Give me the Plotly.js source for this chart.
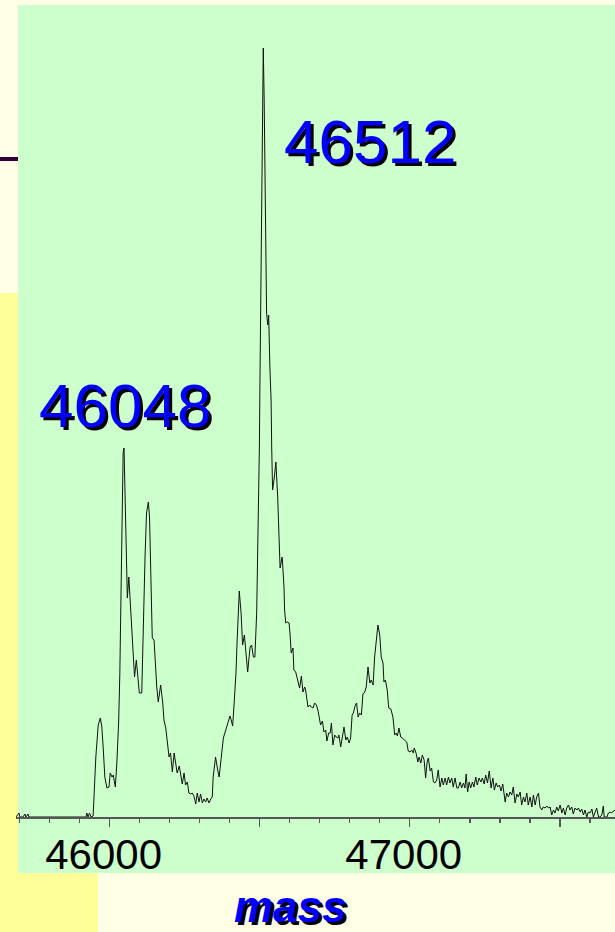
<!DOCTYPE html>
<html>
<head>
<meta charset="utf-8">
<script src="https://cdn.plot.ly/plotly-3.0.1.min.js"></script>
<style>
html,body{margin:0;padding:0;background:#FFFFE5;}
#chart{width:615px;height:932px;}
</style>
</head>
<body>
<div id="chart"></div>
<script>
// Deconvoluted mass spectrum (mass in Da, intensity in arbitrary units)
const mass = [
45688,45698,45701,45711,45718,45721,45728,45731,45921,45924,45928,45933,45938,45945,45954,45962,45969,45974,45979,45984,
45991,45998,46002,46008,46012,46019,46024,46030,46034,46040,46045,46048,46052,46057,46059,46064,46070,46077,46083,46089,
46095,46099,46107,46112,46118,46123,46129,46133,46138,46142,46148,46151,46157,46162,46170,46177,46181,46187,46192,46198,
46203,46209,46215,46221,46225,46232,46238,46242,46248,46253,46259,46264,46270,46275,46281,46287,46292,46298,46303,46309,
46314,46320,46325,46331,46337,46342,46345,46353,46360,46365,46371,46379,46384,46390,46395,46401,46405,46410,46415,46421,
46425,46432,46438,46443,46449,46453,46460,46468,46473,46479,46484,46490,46495,46499,46501,46504,46509,46512,46515,46520,
46523,46527,46530,46534,46538,46540,46543,46549,46554,46560,46564,46568,46575,46581,46583,46587,46592,46598,46601,46605,
46611,46614,46620,46625,46633,46639,46644,46650,46653,46661,46667,46672,46678,46683,46689,46694,46700,46703,46709,46714,
46720,46724,46730,46735,46739,46744,46750,46755,46761,46764,46770,46775,46781,46787,46792,46798,46803,46808,46812,46819,
46823,46828,46833,46839,46844,46850,46855,46861,46867,46872,46878,46883,46889,46894,46900,46905,46911,46914,46919,46925,
46930,46937,46944,46950,46955,46959,46964,46970,46975,46984,46990,46995,47001,47007,47012,47015,47021,47027,47031,47037,
47042,47048,47053,47058,47062,47068,47073,47079,47084,47090,47095,47101,47107,47112,47118,47123,47129,47134,47140,47145,
47151,47157,47162,47168,47173,47179,47184,47188,47193,47198,47203,47209,47214,47220,47225,47231,47237,47242,47248,47253,
47259,47265,47271,47277,47282,47288,47293,47299,47304,47310,47318,47323,47329,47334,47340,47345,47351,47357,47362,47368,
47373,47379,47384,47390,47395,47401,47407,47412,47418,47423,47429,47434,47440,47445,47451,47457,47462,47468,47473,47479,
47484,47490,47495,47501,47507,47512,47518,47523,47529,47534,47540,47545,47551,47557,47562,47568,47573,47579,47584,47590,
47595,47601,47607,47612,47618,47623,47629,47634,47640,47645,47648,47657,47662,47668,47671,47684
];
const intensity = [
0,4,0,0,3,0,3,0,0,4,0,4,0,1,60,92,99,90,67,40,
29,30,44,40,42,30,54,94,144,277,364,369,310,244,219,240,210,177,140,157,
134,124,124,194,260,304,315,300,244,179,177,157,130,115,132,114,97,89,77,60,
64,45,64,49,44,51,40,33,44,32,35,24,23,24,21,13,24,15,23,14,
18,15,19,14,18,20,40,60,47,40,57,79,84,90,97,101,97,91,114,144,
177,226,204,172,182,170,145,170,172,160,160,204,280,370,437,517,717,769,717,584,
504,492,502,450,417,370,327,340,355,320,270,249,260,230,207,194,195,194,184,164,
169,147,145,139,129,141,125,130,127,110,112,110,109,114,112,107,99,92,96,85,
87,76,84,84,94,72,82,80,79,82,70,79,90,77,80,74,79,102,104,112,
114,100,104,102,123,125,130,150,134,137,132,160,180,192,182,160,154,135,137,127,
109,108,100,82,84,81,89,80,79,77,75,66,65,67,64,69,64,55,60,54,
62,57,39,55,59,46,49,35,34,37,47,30,39,32,39,32,40,34,39,30,
39,29,29,35,29,34,29,43,25,35,29,35,30,40,32,39,35,39,33,42,
34,46,29,39,27,34,30,32,26,33,15,24,20,25,22,30,14,23,20,25,
12,20,15,24,12,20,10,22,12,20,24,10,7,10,9,11,9,10,2,7,
4,10,6,12,4,9,2,9,12,7,10,3,9,7,9,5,8,2,7,0,
5,4,8,0,5,9,0,0,2,11,0,0,4,5,4,7
];
const majorTicks = [46000, 46500, 47000, 47500];
const majorTickText = ["46000", "", "47000", ""];
const peakLabels = ["46048", "46512"];
const axisTitle = "mass";

const W = 615, H = 932, L = 16, R = 0, T = 5, B = 115;
const pw = W - L - R, ph = H - T - B;
const px = v => (v - L) / pw;           // page x pixel -> paper
const py = v => (H - B - v) / ph;       // page y pixel -> paper

const shadow = '3px 3px 0px #000000';

const trace = {
  x: mass, y: intensity, type: 'scatter', mode: 'lines',
  line: {color: '#111111', width: 1}, hoverinfo: 'skip', showlegend: false
};

const layout = {
  width: W, height: H,
  margin: {l: L, r: R, t: T, b: B, pad: 0},
  paper_bgcolor: '#FFFFE5',
  plot_bgcolor: 'rgba(0,0,0,0)',
  showlegend: false,
  xaxis: {
    range: [45688, 47684],
    showgrid: false, zeroline: false,
    showline: true, linecolor: '#555555', linewidth: 2,
    ticks: 'outside', ticklen: 8, tickwidth: 1.5, tickcolor: '#555555',
    tickmode: 'array', tickvals: majorTicks, ticktext: majorTickText,
    ticklabelshift: -6, ticklabelstandoff: -8,
    tickfont: {family: 'Liberation Sans, Arial, sans-serif', size: 42, color: '#000000'},
    minor: {tickmode: 'linear', tick0: 46000, dtick: 100, ticks: 'outside', ticklen: 4, tickwidth: 1.5, tickcolor: '#555555'},
    fixedrange: true
  },
  yaxis: {range: [0, 812], visible: false, fixedrange: true},
  shapes: [
    {type: 'rect', xref: 'paper', yref: 'paper', x0: px(18), x1: px(615), y0: py(873), y1: py(5),
     fillcolor: '#CCFFCC', line: {width: 0}, layer: 'below'},
    {type: 'rect', xref: 'paper', yref: 'paper', x0: px(0), x1: px(18), y0: py(873), y1: py(293),
     fillcolor: '#FFFF99', line: {width: 0}, layer: 'below'},
    {type: 'rect', xref: 'paper', yref: 'paper', x0: px(0), x1: px(98), y0: py(932), y1: py(873),
     fillcolor: '#FFFF99', line: {width: 0}, layer: 'below'},
    {type: 'rect', xref: 'paper', yref: 'paper', x0: px(0), x1: px(18), y0: py(161), y1: py(157),
     fillcolor: '#330033', line: {width: 0}, layer: 'below'}
  ],
  annotations: [
    {text: peakLabels[0], xref: 'x', yref: 'y', x: 46051, y: 412, xanchor: 'center', yanchor: 'middle',
     showarrow: false, font: {family: 'Liberation Sans, Arial, sans-serif', size: 62, color: '#0000FF', shadow: shadow}},
    {text: peakLabels[1], xref: 'x', yref: 'y', x: 46866, y: 676, xanchor: 'center', yanchor: 'middle',
     showarrow: false, font: {family: 'Liberation Sans, Arial, sans-serif', size: 62, color: '#0000FF', shadow: shadow}},
    {text: axisTitle, xref: 'paper', yref: 'paper', x: px(290), y: py(907), xanchor: 'center', yanchor: 'middle',
     showarrow: false, font: {family: 'Liberation Sans, Arial, sans-serif', size: 44, color: '#0000FF', weight: 'bold', style: 'italic', shadow: shadow}}
  ]
};

Plotly.newPlot('chart', [trace], layout, {staticPlot: true, displayModeBar: false});
</script>
</body>
</html>
